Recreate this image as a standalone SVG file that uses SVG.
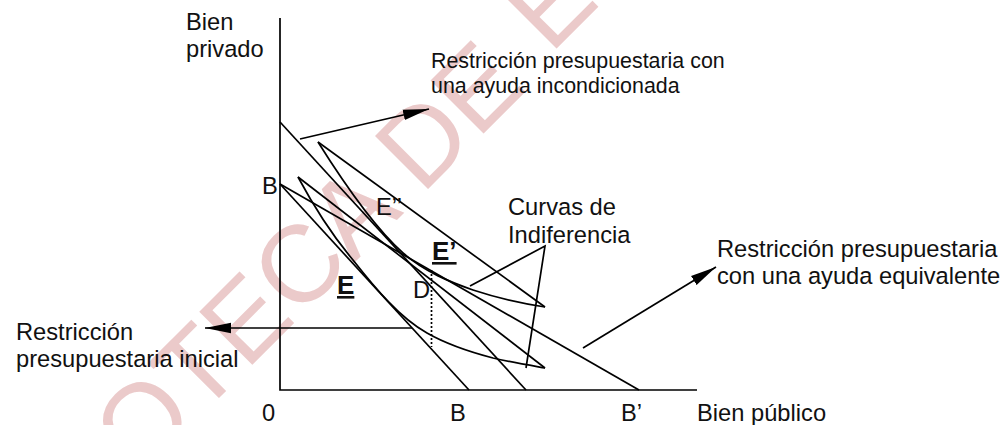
<svg xmlns="http://www.w3.org/2000/svg" width="1007" height="425" viewBox="0 0 1007 425">
<defs>
<marker id="ah" markerUnits="userSpaceOnUse" markerWidth="27" markerHeight="12" refX="26" refY="6" orient="auto"><path d="M0 0.7L26 6L0 11.3Z" fill="#000"/></marker>
</defs>
<style>
text{font-family:"Liberation Sans",Arial,sans-serif;fill:#111}
.t{font-size:23.7px}
.s{font-size:21.4px}
.b{font-size:26px;font-weight:bold}
.wm{font-size:109px;fill:#ebcaca}
.l{fill:none;stroke:#000;stroke-width:1.7}
.a{fill:none;stroke:#000;stroke-width:1.7;marker-end:url(#ah)}
</style>
<rect width="1007" height="425" fill="#fff"/>
<text class="wm" transform="translate(139,478) rotate(-45)">OTECA DE <tspan dx="8.5" dy="-8.5">E</tspan></text>
<g id="connectors">
<path class="l" d="M280 18V390H697"/>
<path class="l" d="M280 184L469 390"/>
<path class="l" d="M280 122L526 390"/>
<path class="l" d="M280 184L639 390"/>
<path class="l" d="M318 142L545 307"/>
<path class="l" d="M318 142C345 185 375 228 403 253C425 272 450 282 473 290C497 298 520 303 545 307"/>
<path class="l" d="M298 177L545 368"/>
<path class="l" d="M298 177C313 205 332 235 353 260C375 288 400 318 427 333C448 345 470 352 493 358C510 362 528 365 545 368"/>
<path class="l" d="M470 286L545 246L526 368"/>
<path class="l" d="M431.5 270V347" stroke-dasharray="2 2"/>
<path class="a" d="M300 139L429 109"/>
<path class="a" d="M583 348L716 267"/>
<path class="a" d="M412 328H205"/>
</g>
<g id="labels">
<text class="t" x="186" y="30">Bien</text>
<text class="t" x="186" y="57">privado</text>
<text class="s" x="431" y="68">Restricción presupuestaria con</text>
<text class="s" x="431" y="93">una ayuda incondicionada</text>
<text class="t" x="262" y="194">B</text>
<text class="t" x="376" y="215">E’’</text>
<text class="t" x="508" y="215">Curvas de</text>
<text class="t" x="508" y="243">Indiferencia</text>
<text class="b" x="432" y="260" text-decoration="underline">E’</text>
<text class="b" x="337" y="294" text-decoration="underline">E</text>
<text class="t" x="413" y="298">D</text>
<text class="t" x="717" y="257">Restricción presupuestaria</text>
<text class="t" x="717" y="284">con una ayuda equivalente</text>
<text class="t" x="16" y="340">Restricción</text>
<text class="t" x="16" y="367">presupuestaria inicial</text>
<text class="t" x="262" y="421">0</text>
<text class="t" x="450" y="421">B</text>
<text class="t" x="621" y="421">B’</text>
<text class="t" x="697" y="421">Bien público</text>
</g>
</svg>
